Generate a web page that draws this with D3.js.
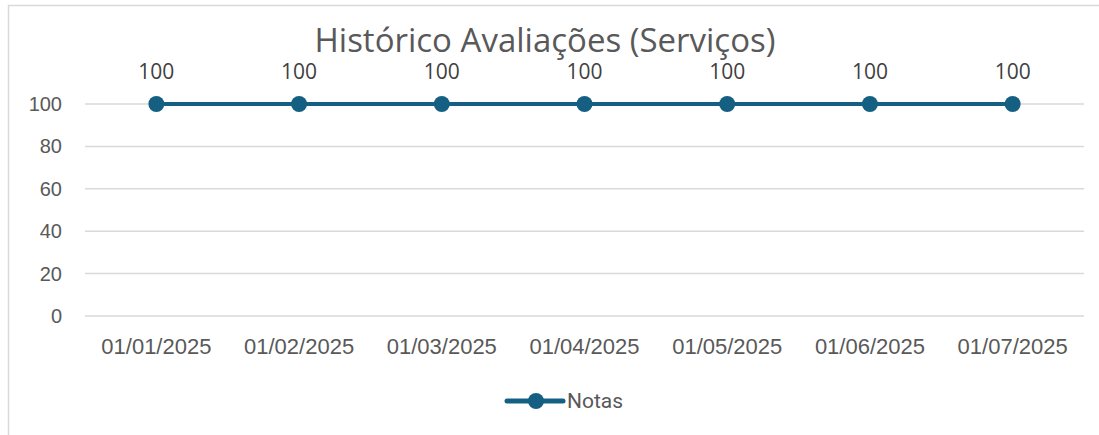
<!DOCTYPE html>
<html>
<head>
<meta charset="utf-8">
<script src="https://cdn.jsdelivr.net/npm/d3@7"></script>
<style>
  body { margin: 0; background: #fff; }
  svg { display: block; }
</style>
</head>
<body>
<svg id="chart" width="1099" height="435"></svg>
<script>
var dates = ['01/01/2025', '01/02/2025', '01/03/2025', '01/04/2025', '01/05/2025', '01/06/2025', '01/07/2025'];
var notas = [100, 100, 100, 100, 100, 100, 100];
var yTicks = [0, 20, 40, 60, 80, 100];

var color = '#156082';
var svg = d3.select('#chart');

// chart frame (runs off the window on the right and bottom)
svg.append('rect')
  .attr('x', 8.5).attr('y', 5.5)
  .attr('width', 1120).attr('height', 450)
  .attr('fill', '#fff')
  .attr('stroke', '#d9d9d9')
  .attr('stroke-width', 1.5);

var plotLeft = 85, plotRight = 1084, plotTop = 104, plotBottom = 316;

var x = d3.scaleBand().domain(dates).range([plotLeft, plotRight]);
var y = d3.scaleLinear().domain([0, 100]).range([plotBottom, plotTop]);

// gridlines
svg.append('g').selectAll('line')
  .data(yTicks)
  .join('line')
  .attr('x1', plotLeft).attr('x2', plotRight)
  .attr('y1', function (d) { return y(d); })
  .attr('y2', function (d) { return y(d); })
  .attr('stroke', '#d9d9d9')
  .attr('stroke-width', 1.5);

// y axis labels
var yAxis = svg.append('g')
  .attr('transform', 'translate(' + (plotLeft - 23) + ',0)')
  .call(d3.axisLeft(y).tickValues(yTicks).tickSize(0).tickPadding(0));
yAxis.select('.domain').remove();
yAxis.selectAll('text')
  .attr('fill', '#595959')
  .style('font-family', '"Liberation Sans", Arial, sans-serif')
  .style('font-size', '20px');

// x axis labels
var xAxis = svg.append('g')
  .attr('transform', 'translate(0,' + (plotBottom + 22) + ')')
  .call(d3.axisBottom(x).tickSize(0).tickPadding(0));
xAxis.select('.domain').remove();
xAxis.selectAll('text')
  .attr('fill', '#595959')
  .style('font-family', '"Liberation Sans", Arial, sans-serif')
  .style('font-size', '22px');

// line
var line = d3.line()
  .x(function (d, i) { return x(dates[i]) + x.bandwidth() / 2; })
  .y(function (d) { return y(d); });

svg.append('path')
  .datum(notas)
  .attr('d', line)
  .attr('fill', 'none')
  .attr('stroke', color)
  .attr('stroke-width', 4)
  .attr('stroke-linecap', 'round');

svg.append('g').selectAll('circle')
  .data(notas)
  .join('circle')
  .attr('cx', function (d, i) { return x(dates[i]) + x.bandwidth() / 2; })
  .attr('cy', function (d) { return y(d); })
  .attr('r', 8)
  .attr('fill', color);

// data labels
svg.append('g').selectAll('text')
  .data(notas)
  .join('text')
  .attr('x', function (d, i) { return x(dates[i]) + x.bandwidth() / 2; })
  .attr('y', function (d) { return y(d) - 25; })
  .attr('text-anchor', 'middle')
  .attr('fill', '#404040')
  .style('font-family', '"Open Sans", sans-serif')
  .style('font-size', '21px')
  .text(function (d) { return d; });

// title
svg.append('text')
  .attr('x', 545).attr('y', 52)
  .attr('text-anchor', 'middle')
  .attr('fill', '#595959')
  .style('font-family', '"Open Sans", sans-serif')
  .style('font-size', '33px')
  .text('Histórico Avaliações (Serviços)');

// legend
var lg = svg.append('g').attr('transform', 'translate(507,401)');
lg.append('line')
  .attr('x1', 0).attr('x2', 56)
  .attr('stroke', color).attr('stroke-width', 5)
  .attr('stroke-linecap', 'round');
lg.append('circle').attr('cx', 29).attr('r', 8).attr('fill', color);
lg.append('text')
  .attr('x', 60).attr('y', 7)
  .attr('fill', '#595959')
  .style('font-family', 'Roboto, sans-serif')
  .style('font-size', '21px')
  .text('Notas');
</script>
</body>
</html>
